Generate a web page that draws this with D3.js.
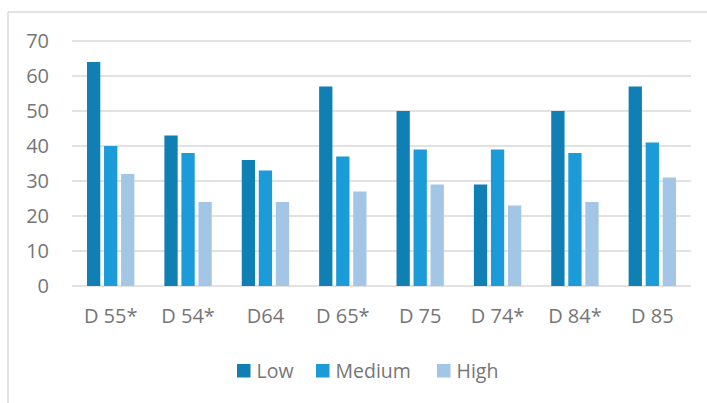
<!DOCTYPE html>
<html>
<head>
<meta charset="utf-8">
<script src="https://cdn.jsdelivr.net/npm/d3@7"></script>
<style>
  html, body { margin: 0; padding: 0; background: #fff; }
  svg { display: block; }
  text { font-family: "Open Sans", "Liberation Sans", sans-serif; fill: #767676; }
</style>
</head>
<body>
<svg id="chart" width="707" height="403"></svg>
<script>
// Categories and series values
const categories = ["D 55*", "D 54*", "D64", "D 65*", "D 75", "D 74*", "D 84*", "D 85"];
const seriesNames = ["Low", "Medium", "High"];
const lowValues = [64, 43, 36, 57, 50, 29, 50, 57];
const mediumValues = [40, 38, 33, 37, 39, 39, 38, 41];
const highValues = [32, 24, 24, 27, 29, 23, 24, 31];
const yTicks = [0, 10, 20, 30, 40, 50, 60, 70];

const seriesValues = [lowValues, mediumValues, highValues];
const colors = ["#107FB3", "#1B9BD8", "#A3C6E7"];

const svg = d3.select("#chart");

// Chart frame: top and left edges only
svg.append("line").attr("x1", 8).attr("x2", 707).attr("y1", 12).attr("y2", 12)
  .attr("stroke", "#d9d9d9").attr("stroke-width", 1.5);
svg.append("line").attr("x1", 8).attr("x2", 8).attr("y1", 12).attr("y2", 403)
  .attr("stroke", "#d9d9d9").attr("stroke-width", 1.5);

const plot = { left: 72, right: 691, top: 41, bottom: 286 };

const x = d3.scaleBand().domain(categories).range([plot.left, plot.right]).paddingInner(0).paddingOuter(0);
const y = d3.scaleLinear().domain([0, 70]).range([plot.bottom, plot.top]);
const inner = d3.scaleBand().domain(seriesNames).range([15, x.bandwidth() - 15]).paddingInner(0.22);

// Gridlines
svg.append("g").selectAll("line").data(yTicks).join("line")
  .attr("x1", plot.left).attr("x2", plot.right)
  .attr("y1", d => y(d)).attr("y2", d => y(d))
  .attr("stroke", "#d9d9d9").attr("stroke-width", 1.5);

// Y axis labels
const yAxis = d3.axisLeft(y).tickValues(yTicks).tickSize(0).tickPadding(0);
const gy = svg.append("g").attr("transform", `translate(49,0.5)`).call(yAxis);
gy.select(".domain").remove();
gy.selectAll("text").attr("font-size", 20).attr("fill", "#767676")
  .attr("font-family", "'Open Sans', sans-serif");

// X axis labels
const xAxis = d3.axisBottom(x).tickSize(0).tickPadding(0);
const gx = svg.append("g").attr("transform", `translate(0,308.8)`).call(xAxis);
gx.select(".domain").remove();
gx.selectAll("text").attr("font-size", 20).attr("fill", "#767676")
  .attr("font-family", "'Open Sans', sans-serif");

// Bars
const groups = svg.append("g").selectAll("g").data(categories).join("g")
  .attr("transform", d => `translate(${x(d)},0)`);
groups.selectAll("rect")
  .data((c, i) => seriesNames.map((s, k) => ({ series: s, value: seriesValues[k][i], k })))
  .join("rect")
  .attr("x", d => inner(d.series))
  .attr("width", inner.bandwidth())
  .attr("y", d => y(d.value))
  .attr("height", d => y(0) - y(d.value))
  .attr("fill", d => colors[d.k]);

// Legend
const legendPos = [237, 316, 437];
const legend = svg.append("g").selectAll("g").data(seriesNames).join("g")
  .attr("transform", (d, i) => `translate(${legendPos[i]},364)`);
legend.append("rect").attr("width", 13.5).attr("height", 13.5).attr("fill", (d, i) => colors[i]);
legend.append("text").attr("x", 19.5).attr("y", 13.5).attr("font-size", 19.5).text(d => d);
</script>
</body>
</html>
